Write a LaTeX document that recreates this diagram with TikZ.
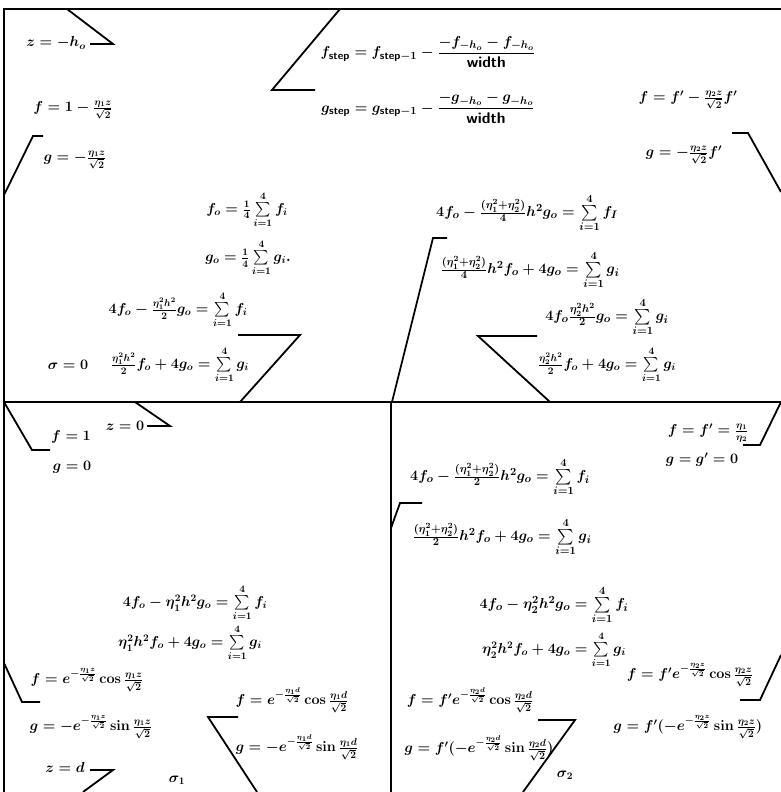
\documentclass[tikz,border=0pt]{standalone}
\usepackage{amsmath,amssymb}
\usepackage{tikz}
\usetikzlibrary{calc}
\newcommand{\stp}{\textsf{\textbf{step}}}
\newcommand{\wdth}{\textsf{\textbf{width}}}
\newcommand{\sumi}{\sum\limits_{i=1}^{4}}
\tikzset{
  frame/.style={black, line width=2pt},
  leader/.style={black, line width=1.8pt},
  eq/.style={inner sep=0pt, font=\fontsize{14.5}{17}\selectfont\boldmath},
  bigeq/.style={inner sep=0pt, font=\fontsize{15.5}{18}\selectfont\boldmath},
}

\begin{document}
\begin{tikzpicture}[x=1pt,y=-1pt]
  \path[use as bounding box] (0,0) rectangle (781,792);

  % frame of the two layers and the two lower columns.
  \coordinate (TL) at (4,9);
  \coordinate (TR) at (781,9);
  \coordinate (ML) at (4,402);
  \coordinate (MM) at (391,402);
  \coordinate (MR) at (781,402);
  \coordinate (BL) at (4,792);
  \coordinate (BM) at (391,792);
  \draw[frame] (TR) -- (TL) -- (BL);
  \draw[frame] (ML) -- (MR);
  \draw[frame] (MM) -- (BM);

  % upper layer.
  \node[eq] (zh) at (56,43) {$z=-h_o$};
  \node[bigeq] (fstep) at (428,52)
    {$f_{\stp}=f_{\stp-1}-\dfrac{-f_{-h_o}-f_{-h_o}}{\wdth}$};
  \node[bigeq] (gstep) at (428,108)
    {$g_{\stp}=g_{\stp-1}-\dfrac{-g_{-h_o}-g_{-h_o}}{\wdth}$};
  \node[eq] (fl) at (73,110) {$f=1-\frac{\eta_1 z}{\sqrt2}$};
  \node[eq] (gl) at (75,160) {$g=-\frac{\eta_1 z}{\sqrt2}$};
  \node[eq] (fr) at (688,100) {$f=f'-\frac{\eta_2 z}{\sqrt2}f'$};
  \node[eq] (gr) at (684,155) {$g=-\frac{\eta_2 z}{\sqrt2}f'$};

  \node[eq] (fo) at (247,210) {$f_o=\frac14\sumi f_i$};
  \node[eq] (go) at (248,258) {$g_o=\frac14\sumi g_i.$};
  \node[eq] (eqA) at (178,310) {$4f_o-\frac{\eta_1^2h^2}{2}g_o=\sumi f_i$};
  \node[eq] (sig0) at (68,365) {$\sigma=0$};
  \node[eq] (eqB) at (180,365) {$\frac{\eta_1^2h^2}{2}f_o+4g_o=\sumi g_i$};

  \node[bigeq] (eqC) at (527,213)
    {$4f_o-\frac{(\eta_1^2+\eta_2^2)}{4}h^2g_o=\sumi f_I$};
  \node[bigeq] (eqD) at (530,270)
    {$\frac{(\eta_1^2+\eta_2^2)}{4}h^2f_o+4g_o=\sumi g_i$};
  \node[bigeq] (eqE) at (607,317) {$4f_o\frac{\eta_2^2h^2}{2}g_o=\sumi g_i$};
  \node[eq] (eqF) at (607,365) {$\frac{\eta_2^2h^2}{2}f_o+4g_o=\sumi g_i$};

  \draw[leader] (67,9) -- (113,44) -- (90,44);
  \draw[leader] (340,9) -- (272,90) -- (315,90);
  \draw[leader] (4,195) -- (33,136) -- (43,136);
  \draw[leader] (732,133) -- (748,133) -- (781,192);
  \draw[leader] (238,335) -- (300,335) -- (240,402);
  \draw[leader] (392,402) -- (433,238) -- (447,238);
  \draw[leader] (537,336) -- (478,336) -- (550,402);

  % lower left column, sigma_1.
  \node[eq] (f1) at (71,437) {$f=1$};
  \node[eq] (g0) at (72,467) {$g=0$};
  \node[eq] (z0) at (125,426) {$z=0$};
  \node[eq] (eqG) at (195,603) {$4f_o-\eta_1^2h^2g_o=\sumi f_i$};
  \node[eq] (eqH) at (190,643) {$\eta_1^2h^2f_o+4g_o=\sumi g_i$};
  \node[eq] (fez) at (87,680)
    {$f=e^{-\frac{\eta_1 z}{\sqrt2}}\cos\frac{\eta_1 z}{\sqrt2}$};
  \node[eq] (gez) at (91,727)
    {$g=-e^{-\frac{\eta_1 z}{\sqrt2}}\sin\frac{\eta_1 z}{\sqrt2}$};
  \node[eq] (zd) at (65,767) {$z=d$};
  \node[eq] (sig1) at (177,780) {$\sigma_1$};
  \node[eq] (fed) at (292,700)
    {$f=e^{-\frac{\eta_1 d}{\sqrt2}}\cos\frac{\eta_1 d}{\sqrt2}$};
  \node[eq] (ged) at (297,747)
    {$g=-e^{-\frac{\eta_1 d}{\sqrt2}}\sin\frac{\eta_1 d}{\sqrt2}$};

  \draw[leader] (4,402) -- (32,450) -- (50,450);
  \draw[leader] (135,402) -- (170,426) -- (147,426);
  \draw[leader] (4,663) -- (22,702) -- (40,702);
  \draw[leader] (238,717) -- (208,717) -- (257,792);
  \draw[leader] (90,770) -- (113,770) -- (83,792);

  % lower right column, sigma_2.
  \node[eq] (ff) at (708,433) {$f=f'=\frac{\eta_1}{\eta_2}$};
  \node[eq] (gg) at (702,460) {$g=g'=0$};
  \node[bigeq] (eqI) at (500,477)
    {$4f_o-\frac{(\eta_1^2+\eta_2^2)}{2}h^2g_o=\sumi f_i$};
  \node[bigeq] (eqJ) at (502,537)
    {$\frac{(\eta_1^2+\eta_2^2)}{2}h^2f_o+4g_o=\sumi g_i$};
  \node[bigeq] (eqK) at (554,605) {$4f_o-\eta_2^2h^2g_o=\sumi f_i$};
  \node[eq] (eqL) at (554,650) {$\eta_2^2h^2f_o+4g_o=\sumi g_i$};
  \node[eq] (fpd) at (470,700)
    {$f=f'e^{-\frac{\eta_2 d}{\sqrt2}}\cos\frac{\eta_2 d}{\sqrt2}$};
  \node[eq] (gpd) at (479,748)
    {$g=f'(-e^{-\frac{\eta_2 d}{\sqrt2}}\sin\frac{\eta_2 d}{\sqrt2})$};
  \node[eq] (sig2) at (565,775) {$\sigma_2$};
  \node[eq] (fpz) at (690,675)
    {$f=f'e^{-\frac{\eta_2 z}{\sqrt2}}\cos\frac{\eta_2 z}{\sqrt2}$};
  \node[eq] (gpz) at (688,727)
    {$g=f'(-e^{-\frac{\eta_2 z}{\sqrt2}}\sin\frac{\eta_2 z}{\sqrt2})$};

  \draw[leader] (743,445) -- (760,445) -- (781,402);
  \draw[leader] (391,528) -- (400,503) -- (422,503);
  \draw[leader] (538,720) -- (575,720) -- (523,792);
  \draw[leader] (740,700) -- (760,700) -- (781,655);
\end{tikzpicture}
\end{document}
